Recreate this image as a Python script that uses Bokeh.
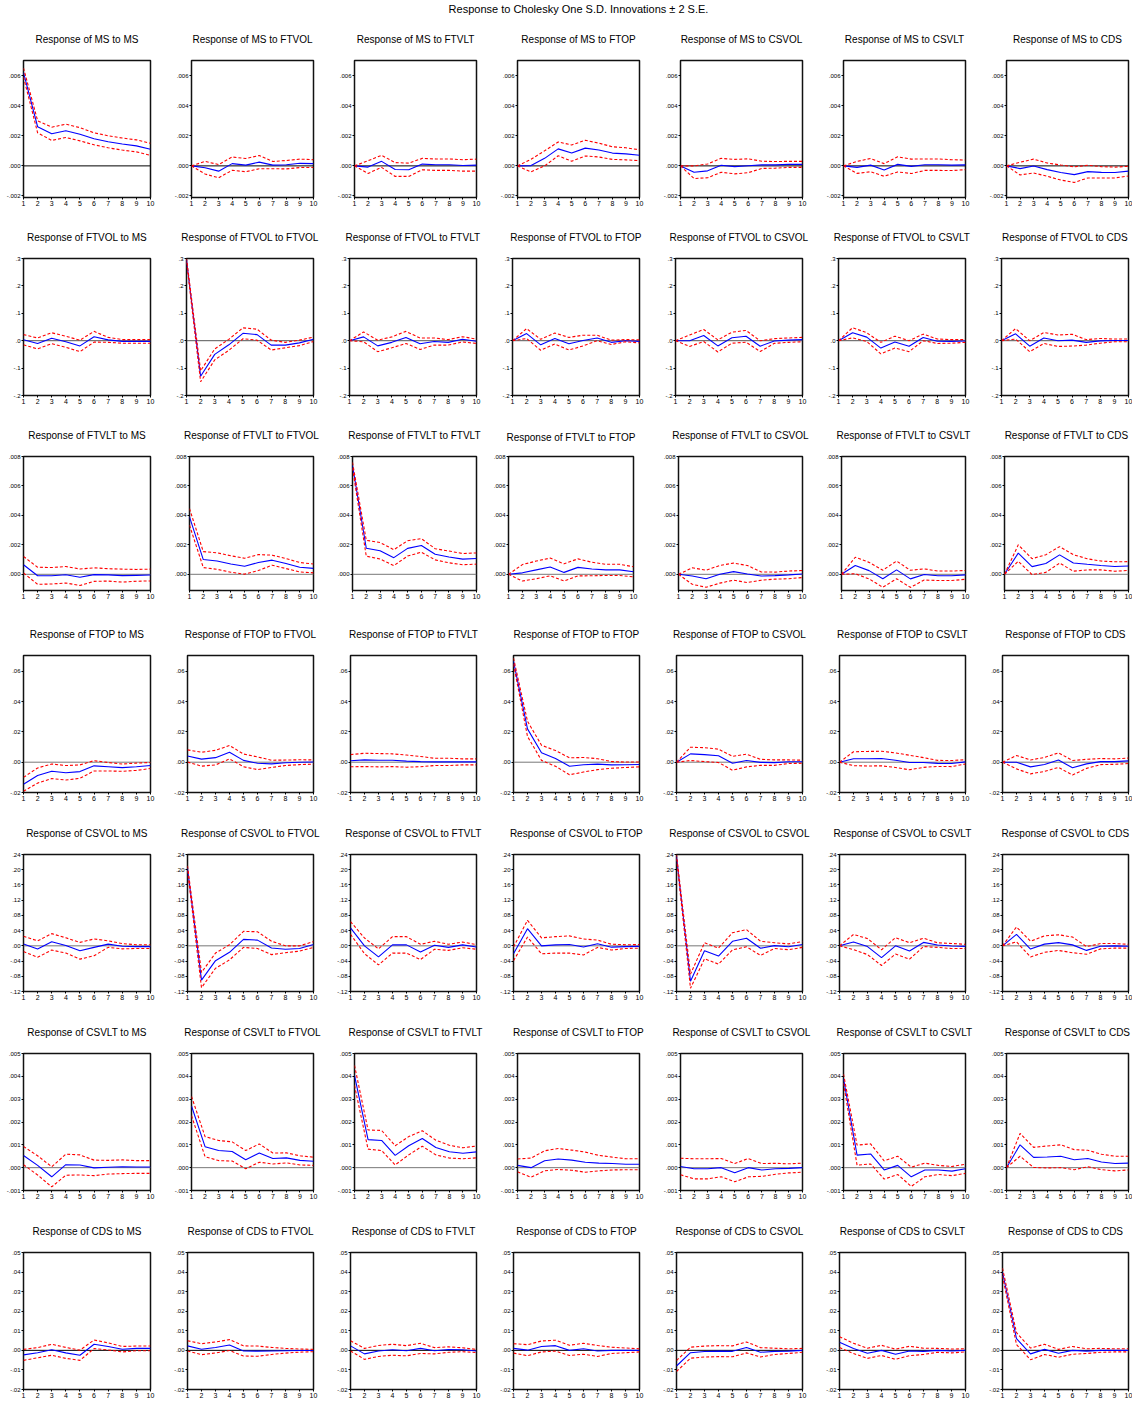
from bokeh.plotting import figure
from bokeh.models import Range1d, FixedTicker, Span, Label
from bokeh.layouts import column, row
from bokeh.embed import file_html
from bokeh.resources import INLINE

names = ["MS", "FTVOL", "FTVLT", "FTOP", "CSVOL", "CSVLT", "CDS"]
periods = list(range(1, 11))

# ---- responses (rows: shock in order of names) and standard errors ----
MS_resp = [
    [.0062, .0026, .00213, .00233, .0021, .0018, .0016, .00145, .00133, .0011],
    [0, -.00012, -.00035, .00015, .00005, .00025, .00005, .00008, .00017, .00015],
    [0, -.00008, .0003, -.00024, -.00026, .00012, .00008, .00008, .00003, .00005],
    [0, .00002, .0005, .00113, .00085, .00118, .00105, .00085, .0008, .00071],
    [0, -.00042, -.00033, .00004, -.00005, .00001, .00007, .00007, .0001, .0001],
    [0, -.0001, .00005, -.00027, .0001, -.00003, .00008, .00008, .00005, .00007],
    [0, -.00018, -.00001, -.00025, -.00044, -.00058, -.00038, -.00043, -.00044, -.00035],
]
MS_se = [
    [.00015, .0002, .00022, .00022, .00022, .0002, .0002, .0002, .0002, .0002],
    [0, .00021, .00022, .00022, .00022, .00022, .00012, .00014, .00014, .00013],
    [0, .00021, .0002, .00023, .00022, .00019, .00019, .00019, .00019, .0002],
    [0, .00021, .00025, .00023, .00027, .00026, .00023, .00021, .0002, .00018],
    [0, .00021, .00023, .00023, .00024, .00023, .00012, .00011, .0001, .0001],
    [0, .0002, .00022, .00021, .00025, .00024, .00019, .00019, .00018, .00016],
    [0, .00021, .00023, .00022, .00025, .00026, .00021, .00019, .00018, .00016],
]
FTVOL_resp = [
    [.0035, -.01, .009, -.004, -.019, .0145, .003, -.0025, -.0025, -.0025],
    [.295, -.13, -.05, -.015, .027, .022, -.016, -.016, -.008, .005],
    [0, .014, -.019, -.006, .012, -.011, -.003, -.006, .005, -.002],
    [0, .026, -.015, .008, -.011, .0005, .01, -.006, 0, -.0025],
    [0, 0, .019, -.019, .011, .016, -.02, -.001, .002, .004],
    [0, .029, .013, -.027, -.005, -.02, .012, -.002, -.0025, -.001],
    [0, .025, -.02, .01, 0, .002, -.006, -.0005, .001, .001],
]
FTVOL_se = [
    [.0093, .01, .01, .01, .0105, .0098, .0045, .0033, .0033, .0033],
    [.003, .01, .01, .01, .01, .01, .009, .005, .005, .004],
    [0, .009, .0105, .01, .011, .0105, .0065, .005, .0048, .004],
    [0, .009, .01, .01, .0115, .0098, .005, .004, .002, .0028],
    [0, .0105, .011, .011, .01, .0108, .0098, .0043, .004, .004],
    [0, .0093, .008, .0105, .0108, .01, .006, .004, .0033, .0025],
    [0, .0095, .01, .01, .0105, .0108, .005, .0043, .0025, .0025],
]
FTVLT_resp = [
    [.00065, -.0001, -.0001, -.00003, -.0002, -.00002, -.00004, -.00009, -.00007, -.00005],
    [.0039, .001, .0009, .0007, .00055, .0008, .00096, .00073, .00048, .0004],
    [.0074, .00177, .0016, .00113, .00176, .00196, .00136, .00118, .00103, .00107],
    [0, .0001, .0003, .0005, .00013, .00047, .00036, .0003, .0003, .00017],
    [0, -.00012, -.0003, 0, .00018, .00002, -.00012, -.00009, -.00004, .00002],
    [0, .0006, .00025, -.0003, .0003, -.00031, -.00001, -.0001, -.0001, -.00004],
    [0, .00144, .00052, .00073, .00132, .00077, .00068, .0006, .00053, .00056],
]
FTVLT_se = [
    [.00028, .00029, .00028, .00028, .00028, .00023, .00021, .00022, .0002, .0002],
    [.00028, .00027, .00028, .00028, .00027, .00027, .00017, .00017, .00016, .00015],
    [.0001, .00027, .00028, .00027, .00026, .00023, .00019, .0002, .00019, .00019],
    [0, .00028, .0003, .0003, .00029, .00029, .00023, .00019, .00019, .00017],
    [0, .00028, .00029, .0003, .00029, .00029, .00014, .00012, .00013, .00012],
    [0, .00028, .00028, .00029, .0003, .00029, .00019, .00016, .00016, .00015],
    [0, .00028, .00027, .0003, .00028, .00028, .00019, .00015, .00016, .00015],
]
FTOP_resp = [
    [-.0146, -.0088, -.006, -.007, -.0062, -.0024, -.003, -.0036, -.003, -.0022],
    [.0041, .002, .003, .0066, .0012, -.0007, -.0011, -.0004, 0, .0001],
    [.001, .0015, .0013, .0013, .0007, .0004, .0002, .0002, .0002, .0002],
    [.0667, .022, .0062, .0025, -.0027, -.0017, -.0013, -.0018, -.0017, -.0015],
    [0, .0055, .005, .0042, -.0007, .0011, -.0001, -.0003, .0003, .0003],
    [0, .0023, .0023, .0024, .0013, -.0002, -.0002, -.0008, -.0009, .0002],
    [0, 0, -.0031, -.0015, .0014, -.0037, -.0011, .0004, .0004, .0009],
]
FTOP_se = [
    [.0023, .0025, .0024, .0024, .0022, .0017, .0014, .0012, .0012, .001],
    [.002, .0023, .0024, .0022, .0021, .0021, .0012, .0009, .0008, .0007],
    [.002, .0022, .0022, .0021, .002, .0017, .0012, .0012, .001, .001],
    [.001, .0025, .0025, .0026, .0028, .0024, .0018, .0011, .0009, .0008],
    [0, .0022, .0023, .0022, .0023, .0021, .001, .0009, .0006, .0005],
    [0, .0023, .0024, .0024, .0024, .0024, .0016, .001, .001, .0007],
    [0, .0022, .0023, .0023, .0024, .0024, .0015, .001, .0009, .0009],
]
CSVOL_resp = [
    [.005, -.0085, .0105, .001, -.013, -.004, .0045, -.001, -.002, -.002],
    [.204, -.09, -.039, -.017, .017, .015, -.0055, -.009, -.007, .0035],
    [.047, 0, -.029, .0025, .0025, -.016, .0015, -.004, .0025, -.003],
    [-.021, .045, 0, .0025, .0035, -.003, .0055, -.0035, -.002, -.0015],
    [.235, -.093, -.013, -.027, .012, .02, -.0065, .0005, -.0025, .0035],
    [0, .01, -.002, -.031, 0, -.0135, .009, .002, -.0005, -.0015],
    [0, .03, -.0085, .0045, .0085, .0025, -.012, -.001, 0, -.001],
]
CSVOL_se = [
    [.01, .0108, .0108, .01, .011, .011, .0043, .0035, .0025, .0025],
    [.003, .01, .01, .01, .0105, .011, .0088, .0045, .0035, .0038],
    [.0083, .0103, .0105, .0108, .0108, .01, .0053, .004, .0038, .003],
    [.009, .011, .0105, .0108, .0113, .0105, .0048, .0038, .0025, .0023],
    [.0025, .0093, .0105, .0105, .0113, .0113, .0093, .0038, .0038, .0038],
    [0, .01, .0105, .0103, .0108, .0108, .0055, .003, .0033, .0028],
    [0, .0098, .0103, .0108, .0103, .0103, .005, .0035, .003, .0025],
]
CSVLT_resp = [
    [.00053, .0001, -.0004, .00013, .00012, -.00001, .00002, .00004, .00003, .00003],
    [.0027, .00092, .00075, .00071, .00035, .00064, .0004, .00043, .00032, .00028],
    [.00404, .00123, .00119, .00054, .00096, .00128, .00088, .0007, .00063, .00069],
    [.0001, 0, .0003, .00038, .00033, .00024, .0002, .00018, .00015, .00015],
    [.00005, -.00005, -.00005, 0, -.00022, 0, -.0001, -.00005, -.00003, 0],
    [.0039, .00055, .0006, -.0001, .0001, -.0004, -.0001, -.0001, -.00015, -.00005],
    [0, .001, .00045, .00047, .0005, .00035, .0004, .00025, .00018, .0002],
]
CSVLT_se = [
    [.0002, .00021, .00022, .00023, .00022, .00017, .00015, .00015, .00014, .00014],
    [.00021, .00022, .00022, .00021, .0002, .0002, .00012, .00011, .0001, .00009],
    [.00022, .00021, .00022, .00021, .0002, .00017, .00016, .00014, .00012, .00013],
    [.00014, .00021, .00022, .00023, .00022, .00022, .00017, .00014, .00012, .00012],
    [.00018, .00022, .00022, .0002, .0002, .0002, .00014, .00012, .0001, .0001],
    [.0001, .00022, .00022, .0002, .0002, .00021, .00015, .0001, .0001, .0001],
    [0, .00025, .00022, .00024, .00025, .00022, .00018, .00017, .00016, .00015],
]
CDS_resp = [
    [-.0023, -.0012, .0003, -.0013, -.0025, .0031, .002, .0006, .001, .001],
    [.0023, .0006, .0015, .0027, -.0003, -.0004, -.0003, -.0002, -.0001, -.0001],
    [.0023, -.0018, -.0003, .0003, -.0002, .001, -.0002, .0004, .0003, -.0003],
    [.001, .0001, .002, .0024, 0, .0008, -.0003, 0, 0, 0],
    [-.008, -.0012, -.0006, -.0004, -.0005, .0015, -.001, -.0005, -.0004, 0],
    [.0042, .001, -.0015, 0, -.002, -.0003, -.0005, 0, -.0003, 0],
    [.04, .006, -.0018, .0005, -.0015, 0, -.0004, 0, 0, 0],
]
CDS_se = [
    [.0014, .0013, .0014, .0014, .0013, .0011, .0009, .0007, .0006, .0006],
    [.0013, .0014, .0014, .0014, .0013, .0013, .0009, .0006, .0004, .0003],
    [.0013, .0014, .0014, .0014, .0013, .0013, .0008, .0007, .0005, .0004],
    [.0012, .0014, .0014, .0014, .0013, .0014, .0014, .0008, .0006, .0004],
    [.0014, .0014, .0014, .0014, .0014, .0014, .0012, .0008, .0006, .0005],
    [.0014, .0013, .0013, .0013, .0013, .0012, .0008, .0005, .0005, .0004],
    [.001, .0015, .0015, .0013, .001, .001, .0006, .0005, .0004, .0004],
]

# ---- y axis per response variable ----
y_ranges = [(-0.0021, 0.007), (-0.2, 0.3), (-0.0011, 0.008), (-0.02, 0.0704),
            (-0.12, 0.24), (-0.001, 0.005), (-0.02, 0.05)]
y_ticks = [
    [-0.002, 0.0, 0.002, 0.004, 0.006],
    [-0.2, -0.1, 0.0, 0.1, 0.2, 0.3],
    [0.0, 0.002, 0.004, 0.006, 0.008],
    [-0.02, 0.0, 0.02, 0.04, 0.06],
    [-0.12, -0.08, -0.04, 0.0, 0.04, 0.08, 0.12, 0.16, 0.2, 0.24],
    [-0.001, 0.0, 0.001, 0.002, 0.003, 0.004, 0.005],
    [-0.02, -0.01, 0.0, 0.01, 0.02, 0.03, 0.04, 0.05],
]
y_labels = [
    ["-.002", ".000", ".002", ".004", ".006"],
    ["-.2", "-.1", ".0", ".1", ".2", ".3"],
    [".000", ".002", ".004", ".006", ".008"],
    ["-.02", ".00", ".02", ".04", ".06"],
    ["-.12", "-.08", "-.04", ".00", ".04", ".08", ".12", ".16", ".20", ".24"],
    ["-.001", ".000", ".001", ".002", ".003", ".004", ".005"],
    ["-.02", "-.01", ".00", ".01", ".02", ".03", ".04", ".05"],
]
x_labels = [str(k) for k in periods]
main_title = "Response to Cholesky One S.D. Innovations \u00b1 2 S.E."

all_resp = [MS_resp, FTVOL_resp, FTVLT_resp, FTOP_resp, CSVOL_resp, CSVLT_resp, CDS_resp]
all_se = [MS_se, FTVOL_se, FTVLT_se, FTOP_se, CSVOL_se, CSVLT_se, CDS_se]
zero_colors = ["#000000", "#555555", "#777777", "#777777", "#777777", "#777777", "#000000"]

FONT = "Liberation Sans"
FRAME_W, FRAME_H = 127, 137
TOP_H = 15
row_heights = [198, 198, 199, 199, 199, 199, 194]


def panel(r, c, width, bl, br, height, bt, standoff):
    p = figure(width=width, height=height, output_backend="svg", toolbar_location=None,
               x_range=Range1d(1, 10), y_range=Range1d(*y_ranges[r]),
               min_border_left=bl, min_border_right=br, min_border_top=bt,
               min_border_bottom=height - bt - FRAME_H)
    p.title.text = f"Response of {names[r]} to {names[c]}"
    p.title.align = "center"
    p.title.text_font = FONT
    p.title.text_font_size = "10px"
    p.title.text_font_style = "normal"
    p.title.text_color = "#000000"
    p.title.standoff = standoff
    p.grid.visible = False
    p.outline_line_color = "#111111"
    p.outline_line_width = 1.5
    p.background_fill_color = "white"
    p.border_fill_color = "white"
    for ax in (p.xaxis[0], p.yaxis[0]):
        ax.axis_line_color = None
        ax.major_tick_line_color = "#000000"
        ax.major_tick_in = 0
        ax.major_tick_out = 2
        ax.minor_tick_line_color = None
        ax.major_label_text_font = FONT
        ax.major_label_standoff = 1
        ax.major_label_text_color = "#000000"
    p.xaxis.ticker = FixedTicker(ticks=periods)
    p.xaxis.major_label_overrides = {k: lab for k, lab in zip(periods, x_labels)}
    p.xaxis.major_label_text_font_size = "7px"
    p.yaxis.ticker = FixedTicker(ticks=y_ticks[r])
    p.yaxis.major_label_overrides = {t: lab for t, lab in zip(y_ticks[r], y_labels[r])}
    p.yaxis.major_label_text_font_size = "6px"

    zl = Span(location=0, dimension="width", line_color=zero_colors[r], line_width=1)
    zl.level = "underlay"
    p.add_layout(zl)

    resp = all_resp[r][c]
    se = all_se[r][c]
    upper = [v + 2 * s for v, s in zip(resp, se)]
    lower = [v - 2 * s for v, s in zip(resp, se)]
    p.line(periods, resp, line_color="#0000FF", line_width=1.1)
    p.line(periods, upper, line_color="#FF0000", line_width=1.1, line_dash="3 2")
    p.line(periods, lower, line_color="#FF0000", line_width=1.1, line_dash="3 2")
    return p


rows = []
for r in range(7):
    figs = []
    for c in range(7):
        width, bl, bt, so = 163, 15, 45, 31
        if c == 0:
            width, bl = 171, 23
        if c == 6:
            width = 146
        if r == 2 and c == 2:
            width = 156
        if r == 2 and c == 3:
            width, bl, bt, so = 170, 16, 42, 28
        br = width - bl - FRAME_W
        figs.append(panel(r, c, width, bl, br, row_heights[r], bt, so))
    rows.append(row(*figs, spacing=0))

total_w = 171 + 5 * 163 + 146
tfig = figure(width=total_w, height=TOP_H, output_backend="svg", toolbar_location=None,
              x_range=Range1d(0, total_w), y_range=Range1d(0, TOP_H),
              min_border=0, outline_line_color=None)
tfig.axis.visible = False
tfig.grid.visible = False
tfig.add_layout(Label(x=578, y=6.5, text=main_title, text_align="center",
                      text_baseline="middle", text_font=FONT, text_font_size="11px",
                      text_color="#000000"))

layout = column(tfig, *rows, spacing=0)
open("out.html", "w").write(file_html(layout, INLINE))
